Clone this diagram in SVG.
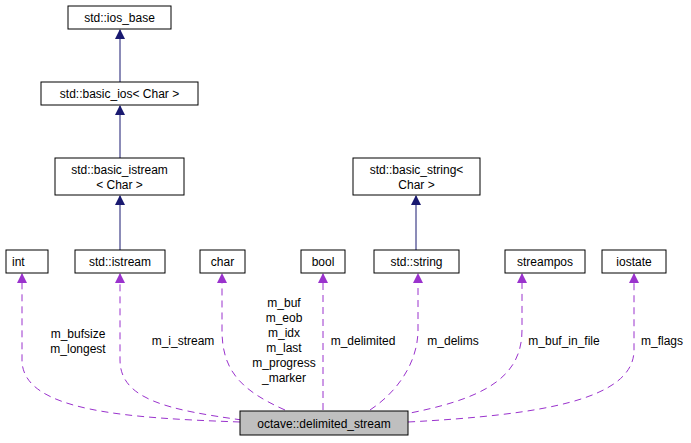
<svg xmlns="http://www.w3.org/2000/svg" width="691" height="443" viewBox="0 0 691 443">
<style>
.n rect{fill:#fff;stroke:#000;stroke-width:1}
text{font-family:"Liberation Sans",Arial,sans-serif;font-size:12px;fill:#000}
.c{text-anchor:middle}
.inh{stroke:#191970;fill:none}
.use{stroke:#9a32cd;fill:none;stroke-dasharray:7,5}
</style>
<defs>
<marker id="ah" markerWidth="10" markerHeight="10" refX="9" refY="5" orient="auto" markerUnits="userSpaceOnUse"><path d="M0,0 L10,5 L0,10 z" fill="#191970"/></marker>
<marker id="ap" markerWidth="10" markerHeight="10" refX="9" refY="5" orient="auto" markerUnits="userSpaceOnUse"><path d="M0,0 L10,5 L0,10 z" fill="#9a32cd"/></marker>
</defs>
<g id="connectors">
<path class="inh" d="M120,82 V30" marker-end="url(#ah)"/>
<path class="inh" d="M120,158 V106" marker-end="url(#ah)"/>
<path class="inh" d="M120,250 V196" marker-end="url(#ah)"/>
<path class="inh" d="M416,250 V196" marker-end="url(#ah)"/>
<path class="use" d="M240,422 C130,418 22,412 22,360 V274" marker-end="url(#ap)"/>
<path class="use" d="M242,420 C170,410 120,400 120,360 V274" marker-end="url(#ap)"/>
<path class="use" d="M285,410 C240,390 222,370 222,330 V274" marker-end="url(#ap)"/>
<path class="use" d="M323,410 V274" marker-end="url(#ap)"/>
<path class="use" d="M370,410 C400,390 418,360 418,330 V274" marker-end="url(#ap)"/>
<path class="use" d="M400,415 C480,400 522,380 522,330 V274" marker-end="url(#ap)"/>
<path class="use" d="M408,422 C540,415 634,400 634,350 V274" marker-end="url(#ap)"/>
</g>
<g id="ios_base" class="n"><rect x="68" y="6" width="103" height="23"/><text class="c" x="119.5" y="22">std::ios_base</text></g>
<g id="basic_ios" class="n"><rect x="41" y="82" width="157" height="23"/><text class="c" x="119.5" y="98">std::basic_ios&lt; Char &gt;</text></g>
<g id="basic_istream" class="n"><rect x="55" y="158" width="129" height="37"/><text class="c" x="119.5" y="174">std::basic_istream</text><text class="c" x="119.5" y="189">&lt; Char &gt;</text></g>
<g id="basic_string" class="n"><rect x="353" y="158" width="127" height="37"/><text class="c" x="416.5" y="174">std::basic_string&lt;</text><text class="c" x="416.5" y="189">Char &gt;</text></g>
<g id="int" class="n"><rect x="6" y="250" width="42" height="23"/><text x="12" y="266">int</text></g>
<g id="istream" class="n"><rect x="75" y="250" width="90" height="23"/><text class="c" x="120" y="266">std::istream</text></g>
<g id="char" class="n"><rect x="200" y="250" width="45" height="23"/><text class="c" x="222.5" y="266">char</text></g>
<g id="bool" class="n"><rect x="301" y="250" width="44" height="23"/><text class="c" x="323" y="266">bool</text></g>
<g id="string" class="n"><rect x="374" y="250" width="85" height="23"/><text class="c" x="416.5" y="266">std::string</text></g>
<g id="streampos" class="n"><rect x="505" y="250" width="80" height="23"/><text class="c" x="545" y="266">streampos</text></g>
<g id="iostate" class="n"><rect x="602" y="250" width="64" height="23"/><text class="c" x="634" y="266">iostate</text></g>
<g id="delimited_stream" class="n"><rect x="240" y="411" width="168" height="24" style="fill:#bfbfbf"/><text class="c" x="324" y="428">octave::delimited_stream</text></g>
<g id="labels">
<text class="c" x="78" y="338">m_bufsize</text><text class="c" x="78" y="353">m_longest</text>
<text class="c" x="183" y="345">m_i_stream</text>
<text class="c" x="284" y="307">m_buf</text><text class="c" x="284" y="322">m_eob</text><text class="c" x="284" y="337">m_idx</text><text class="c" x="284" y="352">m_last</text><text class="c" x="284" y="367">m_progress</text><text class="c" x="284" y="382">_marker</text>
<text class="c" x="363" y="345">m_delimited</text>
<text class="c" x="453" y="345">m_delims</text>
<text class="c" x="564" y="345">m_buf_in_file</text>
<text class="c" x="662" y="345">m_flags</text>
</g>
</svg>
